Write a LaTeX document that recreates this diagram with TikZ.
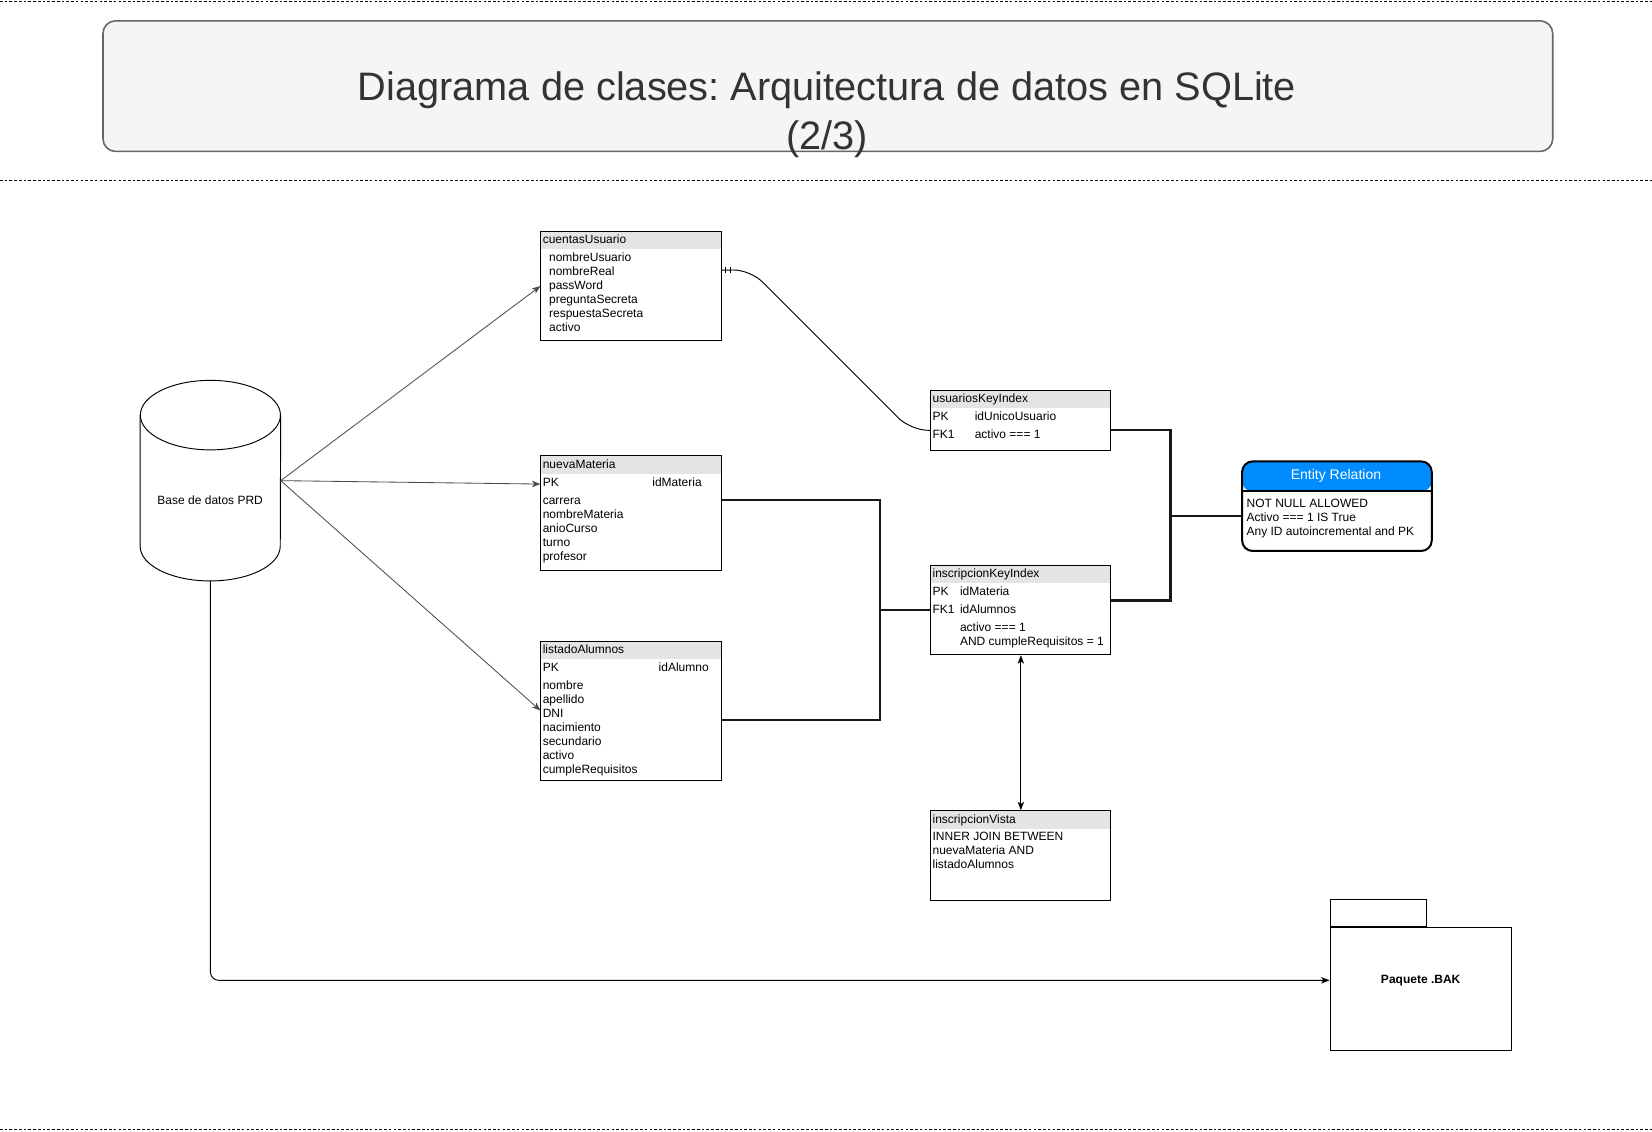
\documentclass[tikz,border=0pt]{standalone}
\usepackage{fontspec}
\setmainfont{Liberation Sans}
\usetikzlibrary{arrows.meta}
\frenchspacing

\definecolor{gris}{HTML}{E4E4E4}
\definecolor{azul}{HTML}{008CFF}
\definecolor{fondo}{HTML}{F5F5F5}
\definecolor{borde}{HTML}{666666}
\definecolor{texto}{HTML}{333333}

\begin{document}
\begin{tikzpicture}
  [x=1pt, y=-1pt, >={Stealth[length=8pt,width=6pt,inset=2pt]},
   every node/.style={inner sep=0pt, font=\fontsize{11.4}{13.3}\selectfont}]

  \tikzstyle{tabla}  = [draw, line width=0.9pt, anchor=north west, minimum width=171pt,
                        path picture={\fill[gris] (path picture bounding box.north west)
                          rectangle ([yshift=-17pt]path picture bounding box.north east);}]
  \tikzstyle{campo}  = [anchor=west, text height=8pt, text depth=0pt]
  \tikzstyle{enlace} = [line width=2pt, black!90]
  \tikzstyle{flecha} = [->, line width=0.8pt, black!70]
  \tikzstyle{guia}   = [line width=0.8pt, dash pattern=on 2.5pt off 2pt]

  \useasboundingbox (0,0) rectangle (1568,1074);

  % separadores
  \draw[guia] (0,1)    -- (1568,1);
  \draw[guia] (0,171)  -- (1568,171);
  \draw[guia] (0,1072) -- (1568,1072);

  % titulo
  \node[draw=borde, fill=fondo, line width=1.5pt, rounded corners=12pt, anchor=north west,
        minimum width=1376pt, minimum height=124pt] (titulo) at (97,19) {};
  \node[align=center, text=texto, font=\fontsize{37.7}{46}\selectfont] (tituloTxt) at (785,109)
        {Diagrama de clases: Arquitectura de datos en SQLite\\(2/3)};

  % base de datos
  \node[minimum width=133pt, minimum height=190pt, anchor=north west] (bd) at (133,361) {};
  \draw[line width=0.9pt] ([yshift=-33pt]bd.north) ellipse [x radius=66.5pt, y radius=33pt];
  \draw[line width=0.9pt] ([yshift=-33pt]bd.north west) -- ([yshift=33pt]bd.south west)
        arc [start angle=180, end angle=360, x radius=66.5pt, y radius=33pt]
        -- ([yshift=-33pt]bd.north east);
  \node (bdTxt) at (199.5,475) {Base de datos PRD};

  % cuentasUsuario
  \node[tabla, minimum height=104pt] (cu) at (513,219) {};
  \node[campo] (cuT) at (515,227.5) {cuentasUsuario};
  \foreach \txt [count=\i from 0] in {nombreUsuario,nombreReal,passWord,preguntaSecreta,respuestaSecreta,activo}
    \node[campo] (cu\i) at (521,244+13.3*\i) {\txt};

  % nuevaMateria
  \node[tabla, minimum height=109pt] (nm) at (513,432) {};
  \node[campo] (nmT)  at (515,440.5) {nuevaMateria};
  \node[campo] (nmPK) at (515,458) {PK};
  \node[campo] (nmId) at (619,458) {idMateria};
  \foreach \txt [count=\i from 0] in {carrera,nombreMateria,anioCurso,turno,profesor}
    \node[campo] (nm\i) at (515,475+13.3*\i) {\txt};

  % listadoAlumnos
  \node[tabla, minimum height=132pt] (la) at (513,608) {};
  \node[campo] (laT)  at (515,616.5) {listadoAlumnos};
  \node[campo] (laPK) at (515,633) {PK};
  \node[campo] (laId) at (625,633) {idAlumno};
  \foreach \txt [count=\i from 0] in {nombre,apellido,DNI,nacimiento,secundario,activo,cumpleRequisitos}
    \node[campo] (la\i) at (515,650+13.3*\i) {\txt};

  % usuariosKeyIndex
  \node[tabla, minimum height=57pt] (uk) at (883,370) {};
  \node[campo] (ukT)  at (885,378.5) {usuariosKeyIndex};
  \node[campo] (ukPK) at (885,395) {PK};
  \node[campo] (ukId) at (925,395) {idUnicoUsuario};
  \node[campo] (ukFK) at (885,412) {FK1};
  \node[campo] (ukAc) at (925,412) {activo === 1};

  % inscripcionKeyIndex
  \node[tabla, minimum height=85pt] (ik) at (883,536) {};
  \node[campo] (ikT)  at (885,544.5) {inscripcionKeyIndex};
  \node[campo] (ikPK) at (885,561) {PK};
  \node[campo] (ikId) at (911,561) {idMateria};
  \node[campo] (ikFK) at (885,578) {FK1};
  \node[campo] (ikAl) at (911,578) {idAlumnos};
  \node[campo] (ikAc) at (911,595) {activo === 1};
  \node[campo] (ikCr) at (911,608.3) {AND cumpleRequisitos = 1};

  % inscripcionVista
  \node[tabla, minimum height=85pt] (iv) at (883,769) {};
  \node[campo] (ivT) at (885,777.5) {inscripcionVista};
  \foreach \txt [count=\i from 0] in {INNER JOIN BETWEEN,nuevaMateria AND,listadoAlumnos}
    \node[campo] (iv\i) at (885,794+13.3*\i) {\txt};

  % Entity Relation
  \node[draw, line width=1.9pt, rounded corners=10pt, anchor=north west,
        minimum width=180pt, minimum height=85pt,
        path picture={\fill[azul] (path picture bounding box.north west)
          rectangle ([yshift=-28.7pt]path picture bounding box.north east);}] (er) at (1178,437) {};
  \draw[line width=1.9pt] ([yshift=-28.7pt]er.north west) -- ([yshift=-28.7pt]er.north east);
  \node[text=white, font=\fontsize{13.3}{16}\selectfont] (erT) at (1268,451.4) {Entity Relation};
  \foreach \txt [count=\i from 0] in {NOT NULL ALLOWED,Activo === 1 IS True,Any ID autoincremental and PK}
    \node[campo] (er\i) at (1183,478+13.3*\i) {\txt};

  % paquete
  \node[draw, line width=0.9pt, anchor=north west, minimum width=172pt, minimum height=117pt] (pk) at (1262,880) {};
  \node[draw, line width=0.9pt, anchor=south west, minimum width=91pt, minimum height=26pt] (pkTab) at (pk.north west) {};
  \node[font=\bfseries\fontsize{11.4}{13.3}\selectfont] (pkTxt) at ([yshift=8.5pt]pk.center) {Paquete .BAK};

  % conexiones
  \draw[flecha] (bd.east) -- (cu.west);
  \draw[flecha] (bd.east) -- ([yshift=27.5pt]nm.west);
  \draw[flecha] (bd.east) -- (la.west);
  \draw[->, line width=0.9pt, rounded corners=8pt] (bd.south) |- ([yshift=8.5pt]pk.west);

  \coordinate (cuR) at ([yshift=15pt]cu.east);
  \coordinate (ukL) at ([yshift=-9.5pt]uk.west);
  \draw[line width=0.9pt, rounded corners=16pt] (cuR) -- (712,256) -- (864,408) -- (ukL);
  \draw[line width=0.9pt] ([xshift=4pt]cuR) ++(0,-3) -- ++(0,6)
                          ([xshift=8pt]cuR) ++(0,-3) -- ++(0,6);

  \coordinate (nmR) at ([yshift=12.5pt]nm.east);
  \coordinate (laR) at ([yshift=-9pt]la.east);
  \coordinate (unionA) at (ik.west -| 835,0);
  \draw[enlace] (nmR) -| (unionA) |- (laR);
  \draw[enlace] (unionA) -- (ik.west);

  \coordinate (ukR) at ([yshift=-9.5pt]uk.east);
  \coordinate (ikR) at ([yshift=9pt]ik.east);
  \coordinate (erL) at ([yshift=-9.5pt]er.west);
  \coordinate (unionB) at (erL -| 1111,0);
  \draw[enlace] (ukR) -| (unionB) |- (ikR);
  \draw[enlace] (unionB) -- (erL);

  \draw[<->, line width=0.9pt] (ik.south) -- (iv.north);
\end{tikzpicture}
\end{document}
